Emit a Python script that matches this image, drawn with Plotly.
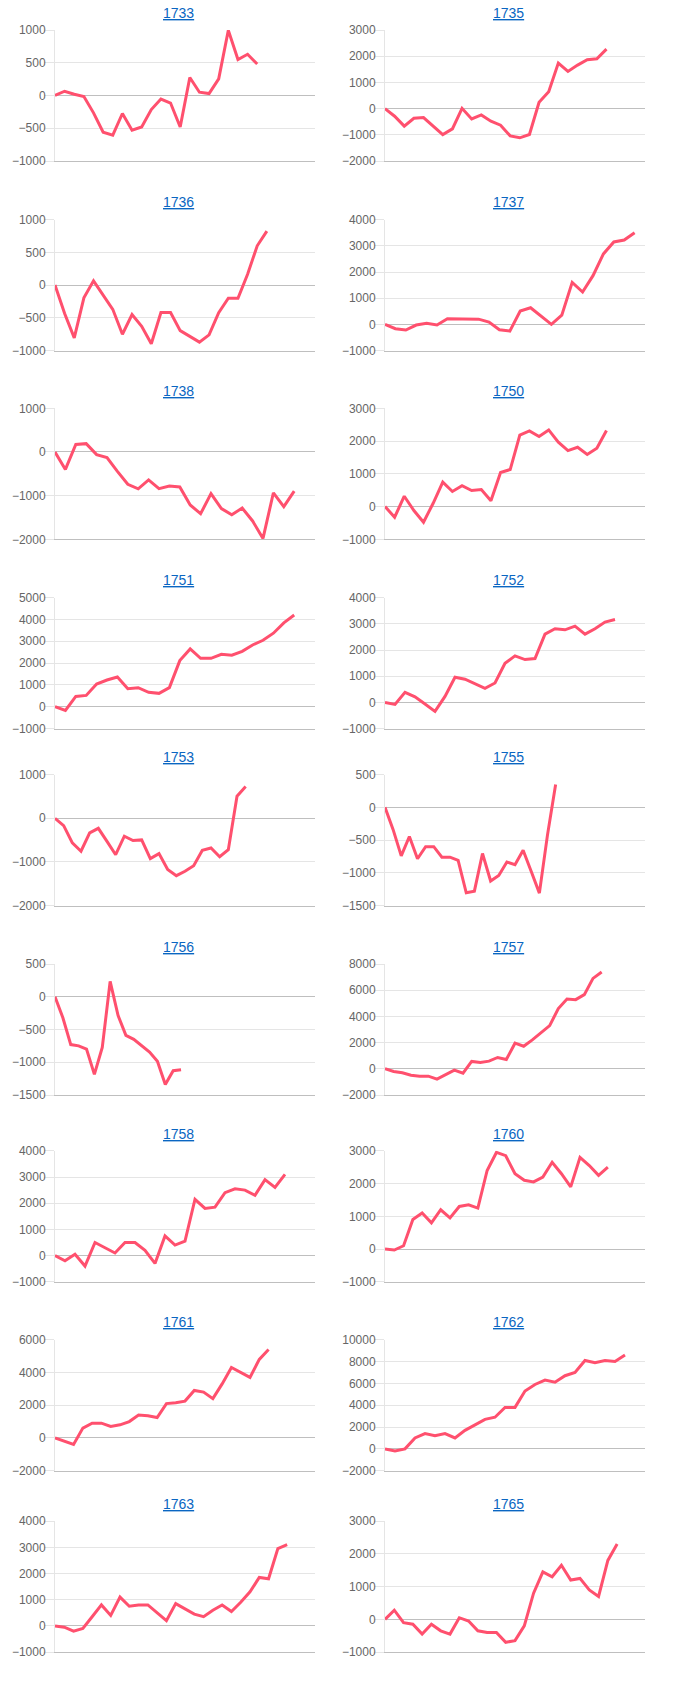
import plotly.graph_objects as go

# ---------------- data ----------------
years = ["1733", "1735", "1736", "1737", "1738", "1750", "1751", "1752", "1753",
         "1755", "1756", "1757", "1758", "1760", "1761", "1762", "1763", "1765"]

v1733 = [0, 65, 20, -15, -265, -560, -605, -275, -530, -480, -215, -55, -115, -480,
         275, 50, 30, 255, 995, 550, 630, 480]
v1735 = [0, -290, -670, -370, -340, -670, -990, -775, 10, -395, -240, -480, -635, -1040,
         -1115, -990, 240, 645, 1740, 1420, 1660, 1865, 1900, 2270]
v1736 = [0, -435, -805, -195, 65, -155, -370, -750, -450, -630, -895, -420, -420, -695,
         -780, -870, -760, -420, -200, -200, 165, 600, 825]
v1737 = [0, -165, -215, -25, 40, -25, 215, 215, 215, 200, 90, -205, -255, 510, 635, 320,
         0, 355, 1605, 1235, 1860, 2690, 3145, 3220, 3500]
v1738 = [0, -400, 170, 190, -60, -130, -445, -740, -845, -640, -840, -780, -800, -1215,
         -1415, -955, -1295, -1440, -1285, -1580, -1980, -935, -1250, -895]
v1750 = [0, -325, 315, -120, -480, 100, 745, 460, 635, 490, 520, 175, 1040, 1130, 2180,
         2310, 2140, 2340, 1965, 1710, 1810, 1590, 1780, 2320]
v1751 = [0, -170, 475, 520, 1040, 1225, 1365, 830, 875, 660, 615, 875, 2115, 2650, 2220,
         2220, 2405, 2360, 2540, 2830, 3045, 3370, 3845, 4200]
v1752 = [0, -75, 385, 215, -60, -345, 230, 960, 885, 705, 540, 740, 1495, 1775, 1635,
         1675, 2605, 2810, 2770, 2910, 2605, 2810, 3065, 3165]
v1753 = [0, -170, -565, -755, -335, -230, -530, -835, -410, -510, -495, -925, -810, -1175,
         -1315, -1215, -1085, -735, -680, -880, -720, 505, 725]
v1755 = [0, -340, -740, -445, -785, -600, -600, -760, -760, -810, -1305, -1280, -705,
         -1125, -1040, -835, -875, -655, -980, -1310, -420, 350]
v1756 = [0, -320, -730, -750, -800, -1185, -775, 235, -285, -590, -650, -750, -845, -985,
         -1340, -1130, -1115]
v1757 = [0, -205, -305, -485, -560, -560, -790, -430, -100, -330, 560, 480, 585, 865, 710,
         1955, 1725, 2210, 2740, 3300, 4595, 5330, 5280, 5660, 6900, 7385]
v1758 = [0, -200, 50, -400, 500, 300, 100, 500, 500, 200, -300, 750, 400, 550, 2150,
         1800, 1850, 2400, 2550, 2500, 2300, 2900, 2600, 3100]
v1760 = [0, -30, 100, 900, 1100, 800, 1200, 950, 1300, 1350, 1250, 2400, 2950, 2850, 2300,
         2100, 2050, 2200, 2650, 2300, 1900, 2800, 2550, 2250, 2500]
v1761 = [0, -200, -400, 600, 900, 900, 700, 800, 1000, 1400, 1350, 1250, 2100, 2150, 2250,
         2900, 2800, 2400, 3300, 4300, 4000, 3700, 4800, 5400]
v1762 = [0, -200, 0, 1000, 1400, 1200, 1400, 1000, 1700, 2200, 2700, 2900, 3800, 3800,
         5300, 5900, 6300, 6100, 6700, 7000, 8100, 7900, 8100, 8000, 8600]
v1763 = [0, -50, -200, -100, 350, 800, 400, 1100, 750, 800, 800, 500, 200, 850, 650, 450,
         350, 600, 800, 550, 900, 1300, 1850, 1800, 2950, 3100]
v1765 = [0, 280, -100, -150, -450, -150, -350, -450, 50, -50, -350, -400, -400, -700, -650,
         -200, 800, 1450, 1300, 1650, 1200, 1250, 900, 700, 1800, 2300]

series = [v1733, v1735, v1736, v1737, v1738, v1750, v1751, v1752, v1753,
          v1755, v1756, v1757, v1758, v1760, v1761, v1762, v1763, v1765]

y_min = [-1000, -2000, -1000, -1000, -2000, -1000, -1000, -1000, -2000,
         -1500, -1500, -2000, -1000, -1000, -2000, -2000, -1000, -1000]
y_max = [1000, 3000, 1000, 4000, 1000, 3000, 5000, 4000, 1000,
         500, 500, 8000, 4000, 3000, 6000, 10000, 4000, 3000]
y_step = [500, 1000, 500, 1000, 1000, 1000, 1000, 1000, 1000,
          500, 500, 2000, 1000, 1000, 2000, 2000, 1000, 1000]
# number of category slots on each x axis
n_labels = [28, 28, 28, 26, 26, 28, 26, 27, 31,
            33, 34, 31, 27, 29, 29, 27, 29, 29]

# ---------------- layout ----------------
W, H = 673, 1684
row_title_y = [12.7, 202.3, 391.0, 580.3, 757.3, 946.7, 1133.5, 1322.4, 1503.8]
col_x = [(55, 315), (385, 645)]
title_cx = [178, 508]
LINE = "rgb(255,80,110)"
FONT = "Liberation Sans, Arial, Helvetica, sans-serif"

fig = go.Figure()
annotations = []
for i, (yr, vals) in enumerate(zip(years, series)):
    r, c = divmod(i, 2)
    k = i + 1
    sfx = "" if k == 1 else str(k)
    fig.add_trace(go.Scatter(
        x=list(range(len(vals))), y=vals, xaxis="x" + sfx, yaxis="y" + sfx,
        mode="lines", line=dict(color=LINE, width=3), cliponaxis=False,
        hoverinfo="skip", showlegend=False))
    top = row_title_y[r] + 17.3
    bot = top + 131
    x0, x1 = col_x[c]
    fig.layout["xaxis" + sfx] = dict(
        domain=[x0 / W, x1 / W], range=[0, n_labels[i] - 1], anchor="y" + sfx,
        automargin=False,
        showgrid=False, zeroline=False, showticklabels=False, ticks="",
        showline=True, linecolor="rgba(0,0,0,0.25)", linewidth=1, fixedrange=True)
    fig.layout["yaxis" + sfx] = dict(
        domain=[1 - bot / H, 1 - top / H], range=[y_min[i], y_max[i]],
        tick0=0, dtick=y_step[i], anchor="x" + sfx, tickformat="d",
        automargin=False, ticklabelstandoff=-4,
        showgrid=True, gridcolor="rgba(0,0,0,0.1)", gridwidth=1,
        zeroline=True, zerolinecolor="rgba(0,0,0,0.25)", zerolinewidth=1,
        showline=True, linecolor="rgba(0,0,0,0.1)", linewidth=1,
        ticks="outside", ticklen=10, tickcolor="rgba(0,0,0,0.1)", tickwidth=1,
        tickfont=dict(size=12, color="#666666", family=FONT), fixedrange=True)
    annotations.append(dict(
        text="<u>" + yr + "</u>", x=title_cx[c] / W, y=1 - row_title_y[r] / H,
        xref="paper", yref="paper", xanchor="center", yanchor="middle",
        showarrow=False, font=dict(size=14, color="#0a66c2", family=FONT)))

fig.update_layout(
    width=W, height=H,
    margin=dict(l=0, r=0, t=0, b=0, pad=0, autoexpand=False),
    paper_bgcolor="white", plot_bgcolor="white",
    annotations=annotations, showlegend=False)

post = (
    "document.documentElement.style.margin='0';"
    "document.body.style.margin='0';document.body.style.padding='0';"
    "document.body.style.overflow='hidden';"
    "var gd=document.getElementById('{plot_id}');"
    "gd.style.position='absolute';gd.style.top='0px';gd.style.left='0px';"
)
fig.write_html("out.html", config={"displayModeBar": False}, post_script=post)
